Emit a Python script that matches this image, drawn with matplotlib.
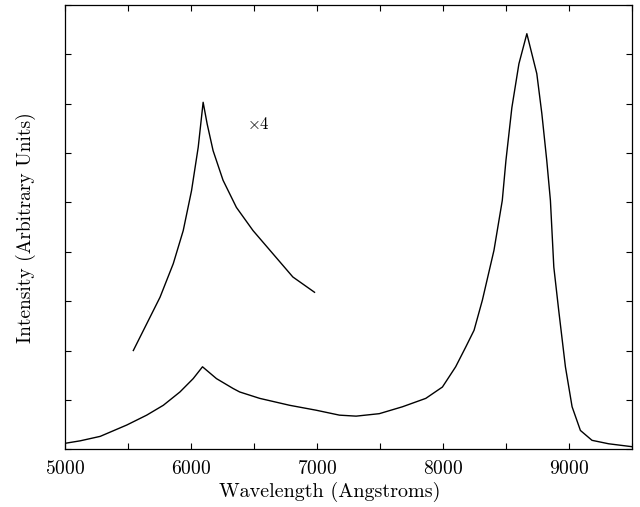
import numpy as np
import matplotlib
matplotlib.use("Agg")
import matplotlib.pyplot as plt
from matplotlib.ticker import MultipleLocator, NullFormatter

plt.rcParams["font.family"] = "cmr10"
plt.rcParams["axes.formatter.use_mathtext"] = True
plt.rcParams["mathtext.fontset"] = "cm"

# full spectrum
wave = [5000, 5119, 5277, 5488, 5646, 5778, 5910, 6015, 6089, 6200, 6332, 6384,
        6543, 6780, 6991, 7176, 7308, 7492, 7676, 7861, 7993, 8098, 8178, 8244,
        8310, 8402, 8468, 8497, 8544, 8600, 8663, 8742, 8782, 8821, 8850, 8877,
        8916, 8969, 9022, 9088, 9180, 9312, 9500]
inten = [0.12, 0.17, 0.26, 0.49, 0.69, 0.89, 1.16, 1.43, 1.67, 1.43, 1.23, 1.16,
         1.03, 0.89, 0.79, 0.69, 0.67, 0.72, 0.86, 1.03, 1.26, 1.67, 2.07, 2.41,
         3.02, 4.03, 5.04, 5.85, 6.92, 7.81, 8.42, 7.61, 6.8, 5.85, 5.04, 3.69,
         2.81, 1.67, 0.86, 0.38, 0.18, 0.11, 0.05]

# blue part magnified x4
wave_x4 = [5540, 5646, 5752, 5857, 5936, 6002, 6055, 6094, 6126, 6173, 6252,
           6358, 6490, 6648, 6806, 6978]
inten_x4 = [2.0, 2.54, 3.08, 3.76, 4.43, 5.24, 6.12, 7.03, 6.59, 6.05, 5.45,
            4.90, 4.43, 3.96, 3.49, 3.18]

fig = plt.figure(figsize=(6.4, 5.07), dpi=100)
ax = fig.add_axes([0.102, 0.114, 0.886, 0.876])

ax.plot(wave, inten, color="k", linewidth=1.0)
ax.plot(wave_x4, inten_x4, color="k", linewidth=1.0)
ax.text(6530, 6.6, r"$\times$4", fontsize=12, ha="center", va="center")

ax.set_xlim(5000, 9500)
ax.set_ylim(0, 9)
ax.xaxis.set_major_locator(MultipleLocator(1000))
ax.xaxis.set_minor_locator(MultipleLocator(500))
ax.yaxis.set_major_locator(MultipleLocator(1))
ax.yaxis.set_major_formatter(NullFormatter())
ax.tick_params(which="both", direction="in", top=True, right=True,
               length=4, width=0.8, labelsize=14, pad=8)
for s in ax.spines.values():
    s.set_linewidth(0.9)

ax.set_xlabel("Wavelength (Angstroms)", fontsize=14.5)
ax.xaxis.set_label_coords(0.466, -0.074)
ax.set_ylabel("Intensity (Arbitrary Units)", fontsize=14, labelpad=13)

fig.savefig("out.png", dpi=100)
